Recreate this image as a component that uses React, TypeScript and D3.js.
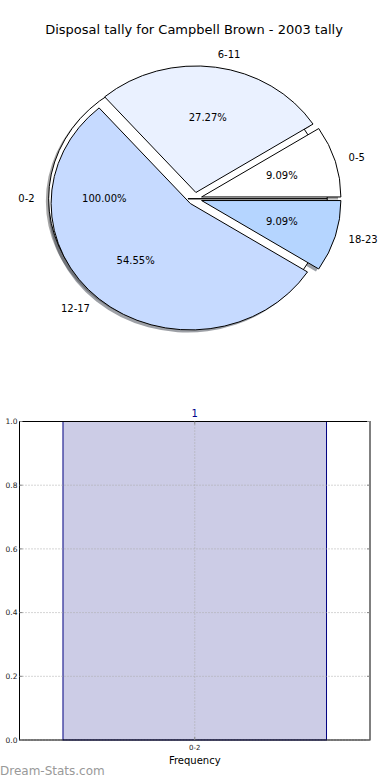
import React from 'react';
import * as d3 from 'd3';

// pie data (the 0-2 bucket is drawn as a full wedge behind the rest)
const pieLabels = ['0-5', '6-11', '12-17', '18-23'];
const pieCounts = [1, 3, 6, 1];
const pieColors = ['#FFFFFF', '#EAF1FF', '#C6DAFF', '#B5D5FF'];
const baseLabels = ['0-2'];
const baseCounts = [1];
const baseColors = ['#FFFFFF'];

// bar data
const barCategories = ['0-2'];
const barValues = [1];
const yTicks = [0, 0.2, 0.4, 0.6, 0.8, 1.0];

const W = 390;
const H = 780;
const font = '"DejaVu Sans", Verdana, sans-serif';

// pie geometry (matplotlib pie on non-equal axes -> ellipse)
const cx = 194.9;
const cy = 198.75;
const rx = 139.3;
const ry = 126.5;
const explode = 0.05;
const shadowDx = -0.02 * rx;
const shadowDy = 0.02 * ry;

const shade = (c: string) => {
  const col = d3.rgb(c);
  return `rgba(${col.r * 0.3},${col.g * 0.3},${col.b * 0.3},0.5)`;
};

const pieGen = d3.pie<number>()
  .sort(null)
  .value(d => d)
  .startAngle(Math.PI / 2)
  .endAngle(Math.PI / 2 - 2 * Math.PI);

const unitArc = d3.arc<d3.PieArcDatum<number>>().innerRadius(0).outerRadius(1);

const pctFmt = (v: number, total: number) => `${((v / total) * 100).toFixed(2)}%`;

type Slice = {
  label: string;
  pct: string;
  color: string;
  d: string;
  ox: number;
  oy: number;
  lx: number;
  ly: number;
  px: number;
  py: number;
  anchor: string;
};

function buildSlices(labels: string[], counts: number[], colors: string[], full: boolean): Slice[] {
  const total = d3.sum(counts);
  return pieGen(counts).map((a, i) => {
    const m = (a.startAngle + a.endAngle) / 2;
    const sx = Math.sin(m);
    const sy = -Math.cos(m);
    const ox = cx + explode * rx * sx;
    const oy = cy + explode * ry * sy;
    let d = unitArc(a) || '';
    if (full) {
      // matplotlib's 360 degree wedge keeps its radial edge at 0 degrees
      const p = d3.path();
      p.moveTo(0, 0);
      p.lineTo(1, 0);
      p.arc(0, 0, 1, 0, Math.PI, false);
      p.arc(0, 0, 1, Math.PI, 2 * Math.PI, false);
      p.closePath();
      d = p.toString();
    }
    return {
      label: labels[i],
      pct: pctFmt(counts[i], total),
      color: colors[i],
      d,
      ox,
      oy,
      lx: ox + 1.1 * rx * sx,
      ly: oy + 1.1 * ry * sy,
      px: ox + 0.6 * rx * sx,
      py: oy + 0.6 * ry * sy,
      anchor: sx > 0 ? 'start' : 'end',
    };
  });
}

const baseSlices = buildSlices(baseLabels, baseCounts, baseColors, true);
const slices = buildSlices(pieLabels, pieCounts, pieColors, false);
const allSlices = [...baseSlices, ...slices];

// bar chart geometry
const plot = { left: 19.5, right: 370, top: 421.5, bottom: 740 };
const xScale = d3.scaleLinear().domain([-0.532, 0.532]).range([plot.left, plot.right]);
const yScale = d3.scaleLinear().domain([0, 1]).range([plot.bottom, plot.top]);
const barWidth = 0.8;

const App: React.FC = () => {
  return (
    <svg
      width={W}
      height={H}
      style={{ position: 'absolute', left: 0, top: 0, background: '#fff' }}
      fontFamily={font}
    >
      <rect x={0} y={0} width={W} height={H} fill="#fff" />
      <text x={194} y={34} textAnchor="middle" fontSize={13} fill="#000">
        Disposal tally for Campbell Brown - 2003 tally
      </text>

      {/* shadows under everything */}
      {allSlices.map((s, i) => (
        <path
          key={'sh' + i}
          d={s.d}
          transform={`translate(${s.ox + shadowDx},${s.oy + shadowDy}) scale(${rx},${ry})`}
          fill={shade(s.color)}
          stroke="none"
        />
      ))}
      {allSlices.map((s, i) => (
        <path
          key={'w' + i}
          d={s.d}
          transform={`translate(${s.ox},${s.oy}) scale(${rx},${ry})`}
          fill={s.color}
          stroke="#000"
          strokeWidth={1}
          strokeLinejoin="miter"
          vectorEffect="non-scaling-stroke"
        />
      ))}
      {allSlices.map((s, i) => (
        <g key={'t' + i} fontSize={10} fill="#000">
          <text x={s.lx} y={s.ly} dy="0.35em" textAnchor={s.anchor}>{s.label}</text>
          <text x={s.px} y={s.py} dy="0.35em" textAnchor="middle">{s.pct}</text>
        </g>
      ))}

      {/* bar chart */}
      {barValues.map((v, i) => (
        <rect
          key={'b' + i}
          x={xScale(i - barWidth / 2)}
          y={yScale(v)}
          width={xScale(i + barWidth / 2) - xScale(i - barWidth / 2)}
          height={yScale(0) - yScale(v)}
          fill="#CCCCE6"
          stroke="#000080"
          strokeWidth={1}
        />
      ))}
      {/* grid */}
      {yTicks.map(t => (
        <line
          key={'gy' + t}
          x1={plot.left}
          x2={plot.right}
          y1={yScale(t)}
          y2={yScale(t)}
          stroke="#aaa"
          strokeWidth={1}
          strokeDasharray="1,2"
        />
      ))}
      {barCategories.map((c, i) => (
        <line
          key={'gx' + c}
          x1={xScale(i)}
          x2={xScale(i)}
          y1={plot.top}
          y2={plot.bottom}
          stroke="#aaa"
          strokeWidth={1}
          strokeDasharray="1,2"
        />
      ))}
      <rect
        x={plot.left}
        y={plot.top}
        width={plot.right - plot.left}
        height={plot.bottom - plot.top}
        fill="none"
        stroke="#000"
        strokeWidth={1}
      />
      {/* ticks */}
      {yTicks.map(t => (
        <g key={'ty' + t}>
          <line x1={plot.left} x2={plot.left + 3} y1={yScale(t)} y2={yScale(t)} stroke="#888" />
          <line x1={plot.right - 3} x2={plot.right} y1={yScale(t)} y2={yScale(t)} stroke="#888" />
          <text x={plot.left - 2} y={yScale(t)} dy="0.35em" textAnchor="end" fontSize={7.5} fill="#222">
            {t.toFixed(1)}
          </text>
        </g>
      ))}
      {barCategories.map((c, i) => (
        <g key={'tx' + c}>
          <line x1={xScale(i)} x2={xScale(i)} y1={plot.bottom - 3} y2={plot.bottom} stroke="#888" />
          <line x1={xScale(i)} x2={xScale(i)} y1={plot.top} y2={plot.top + 3} stroke="#888" />
          <text x={xScale(i)} y={yScale(0) + 10} textAnchor="middle" fontSize={7} fill="#222">{c}</text>
        </g>
      ))}
      {barValues.map((v, i) => (
        <text key={'v' + i} x={xScale(i)} y={yScale(v) - 5} textAnchor="middle" fontSize={10} fill="#00008B">
          {v}
        </text>
      ))}
      <text x={xScale(0)} y={764} textAnchor="middle" fontSize={10} fill="#000">Frequency</text>
      <text x={0} y={775} fontSize={12} fill="#999">Dream-Stats.com</text>
    </svg>
  );
};

export default App;
